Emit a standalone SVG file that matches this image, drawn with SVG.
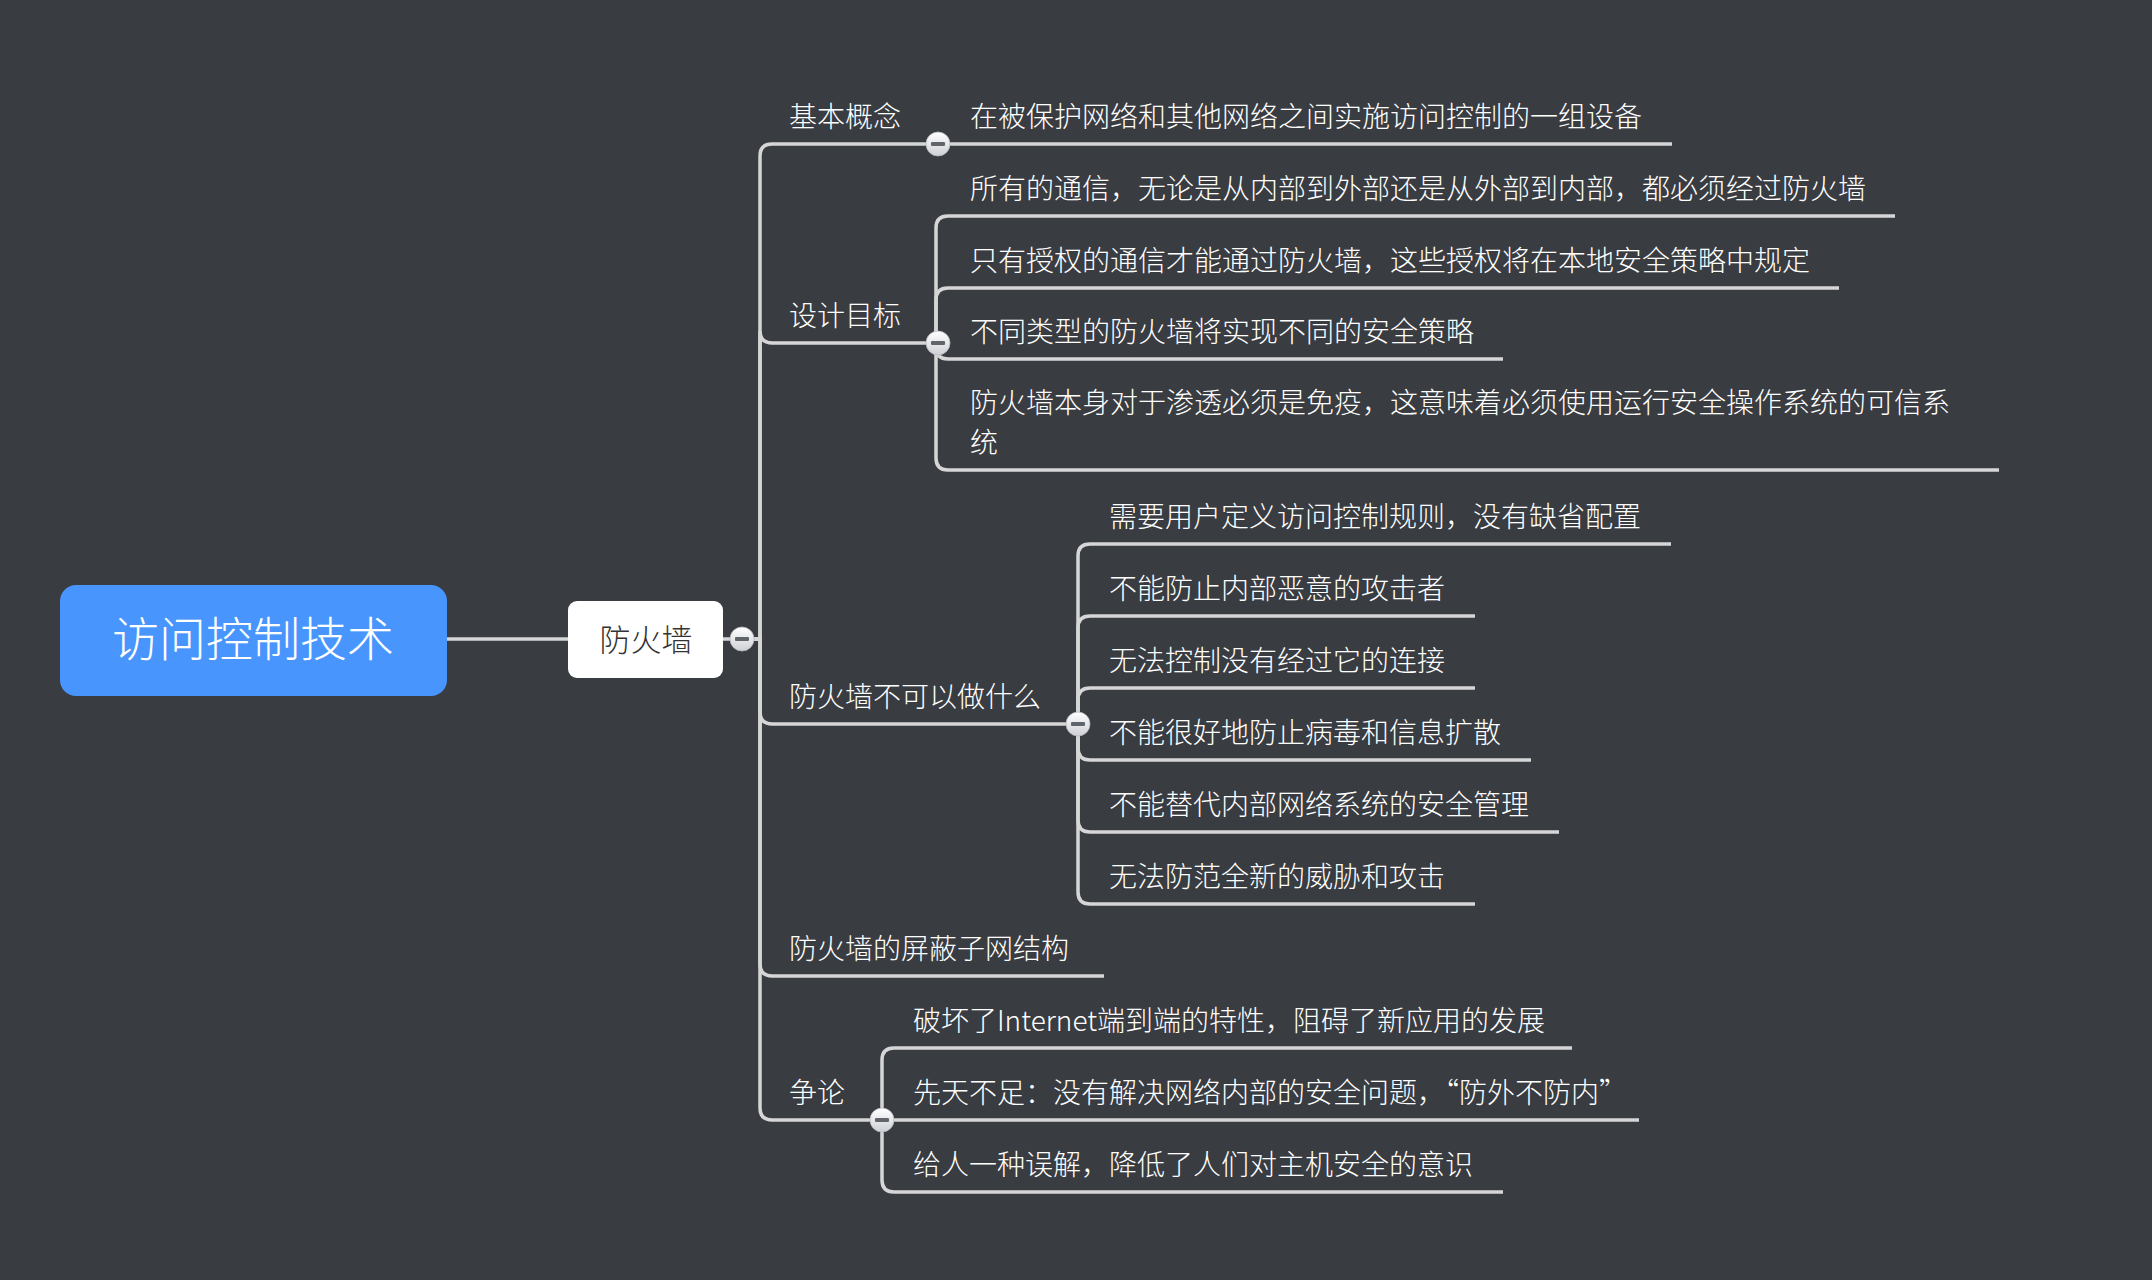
<svg xmlns="http://www.w3.org/2000/svg" width="2152" height="1280" viewBox="0 0 2152 1280">
<defs>
<linearGradient id="cg" x1="0" y1="0" x2="0" y2="1">
<stop offset="0" stop-color="#ffffff"/>
<stop offset="1" stop-color="#cdd0d5"/>
</linearGradient>
<g id="col">
<circle r="12" fill="url(#cg)" stroke="#b5b8bd" stroke-width="0.8"/>
<rect x="-7" y="-2" width="14" height="4" rx="1" fill="#60646b"/>
</g>
</defs>
<style>
.ln{fill:none;stroke:#d6d6d6;stroke-width:3.5;stroke-linecap:butt}
.t{font-family:"Noto Sans CJK SC","Noto Sans",sans-serif;font-size:28px;font-weight:300;fill:#ffffff}
.root{font-family:"Noto Sans CJK SC","Noto Sans",sans-serif;font-size:47px;font-weight:300;fill:#ffffff;text-anchor:middle}
.sub{font-family:"Noto Sans CJK SC","Noto Sans",sans-serif;font-size:31px;font-weight:300;fill:#333333;text-anchor:middle}
</style>
<rect width="2152" height="1280" fill="#393c41"/>

<g id="connectors">
<path class="ln" d="M447,639 H568"/>
<path class="ln" d="M723,639 H760 V156 Q760,144 772,144 H938"/>
<path class="ln" d="M742,639 H760 V331 Q760,343 772,343 H938"/>
<path class="ln" d="M742,639 H760 V712 Q760,724 772,724 H1078"/>
<path class="ln" d="M742,639 H760 V964 Q760,976 772,976 H1104"/>
<path class="ln" d="M742,639 H760 V1108 Q760,1120 772,1120 H882"/>
<path class="ln" d="M938,144 H1672"/>
<path class="ln" d="M936,343 V228 Q936,216 948,216 H1895"/>
<path class="ln" d="M936,343 V300 Q936,288 948,288 H1839"/>
<path class="ln" d="M936,343 V347 Q936,359 948,359 H1503"/>
<path class="ln" d="M936,343 V458 Q936,470 948,470 H1999"/>
<path class="ln" d="M1078,724 V556 Q1078,544 1090,544 H1671"/>
<path class="ln" d="M1078,724 V628 Q1078,616 1090,616 H1475"/>
<path class="ln" d="M1078,724 V700 Q1078,688 1090,688 H1475"/>
<path class="ln" d="M1078,724 V748 Q1078,760 1090,760 H1531"/>
<path class="ln" d="M1078,724 V820 Q1078,832 1090,832 H1559"/>
<path class="ln" d="M1078,724 V892 Q1078,904 1090,904 H1475"/>
<path class="ln" d="M882,1120 V1060 Q882,1048 894,1048 H1572"/>
<path class="ln" d="M882,1120 H1639"/>
<path class="ln" d="M882,1120 V1180 Q882,1192 894,1192 H1503"/>
</g>

<g id="root">
<rect x="60" y="585" width="387" height="111" rx="16" fill="#4896fd"/>
<text class="root" x="253" y="656">访问控制技术</text>
</g>
<g id="firewall">
<rect x="568" y="601" width="155" height="77" rx="9" fill="#ffffff"/>
<text class="sub" x="646" y="651">防火墙</text>
<use href="#col" x="742" y="639"/>
</g>

<g id="n-basic">
<text class="t" x="789" y="127">基本概念</text>
<use href="#col" x="938" y="144"/>
</g>
<g id="n-basic-1"><text class="t" x="970" y="127">在被保护网络和其他网络之间实施访问控制的一组设备</text></g>

<g id="n-design">
<text class="t" x="789" y="326">设计目标</text>
<use href="#col" x="938" y="343"/>
</g>
<g id="n-design-1"><text class="t" x="970" y="199">所有的通信，无论是从内部到外部还是从外部到内部，都必须经过防火墙</text></g>
<g id="n-design-2"><text class="t" x="970" y="271">只有授权的通信才能通过防火墙，这些授权将在本地安全策略中规定</text></g>
<g id="n-design-3"><text class="t" x="970" y="342">不同类型的防火墙将实现不同的安全策略</text></g>
<g id="n-design-4">
<text class="t" x="970" y="413">防火墙本身对于渗透必须是免疫，这意味着必须使用运行安全操作系统的可信系</text>
<text class="t" x="970" y="453">统</text>
</g>

<g id="n-cannot">
<text class="t" x="789" y="707">防火墙不可以做什么</text>
<use href="#col" x="1078" y="724"/>
</g>
<g id="n-cannot-1"><text class="t" x="1109" y="527">需要用户定义访问控制规则，没有缺省配置</text></g>
<g id="n-cannot-2"><text class="t" x="1109" y="599">不能防止内部恶意的攻击者</text></g>
<g id="n-cannot-3"><text class="t" x="1109" y="671">无法控制没有经过它的连接</text></g>
<g id="n-cannot-4"><text class="t" x="1109" y="743">不能很好地防止病毒和信息扩散</text></g>
<g id="n-cannot-5"><text class="t" x="1109" y="815">不能替代内部网络系统的安全管理</text></g>
<g id="n-cannot-6"><text class="t" x="1109" y="887">无法防范全新的威胁和攻击</text></g>

<g id="n-subnet"><text class="t" x="789" y="959">防火墙的屏蔽子网结构</text></g>

<g id="n-debate">
<text class="t" x="789" y="1103">争论</text>
<use href="#col" x="882" y="1120"/>
</g>
<g id="n-debate-1"><text class="t" x="913" y="1031">破坏了Internet端到端的特性，阻碍了新应用的发展</text></g>
<g id="n-debate-2"><text class="t" x="913" y="1103">先天不足：没有解决网络内部的安全问题，“防外不防内”</text></g>
<g id="n-debate-3"><text class="t" x="913" y="1175">给人一种误解，降低了人们对主机安全的意识</text></g>
</svg>
